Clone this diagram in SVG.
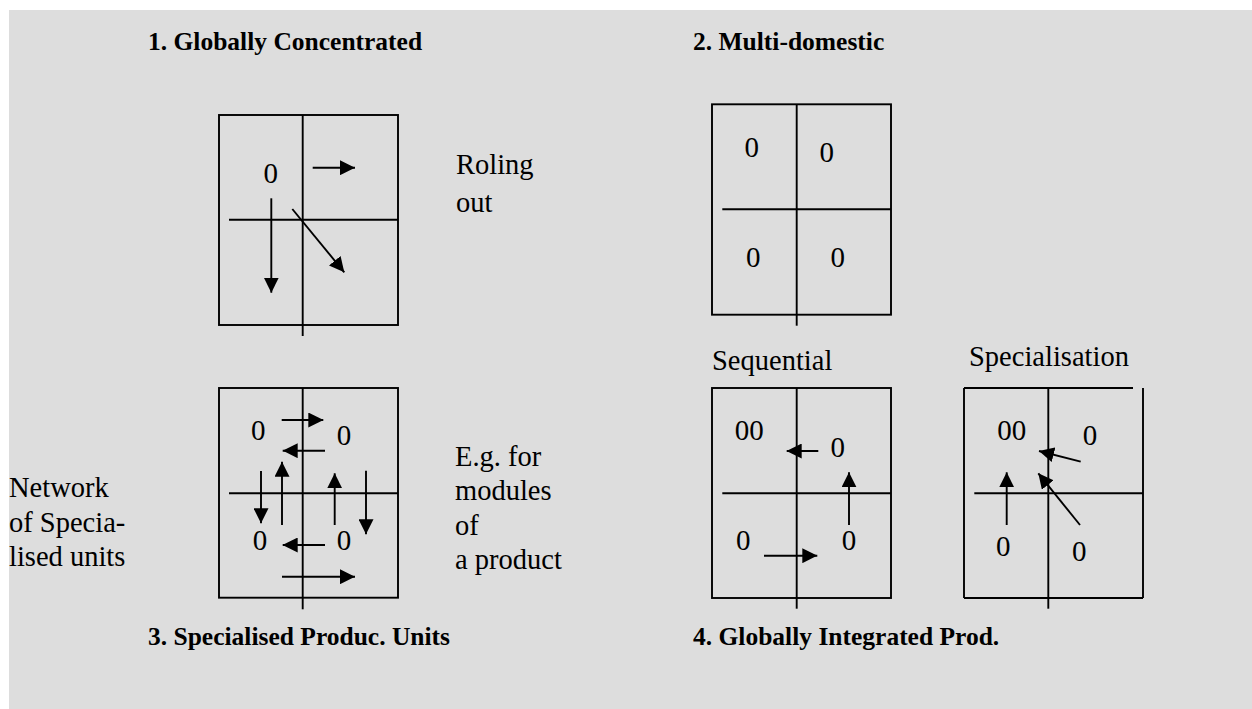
<svg xmlns="http://www.w3.org/2000/svg" width="1252" height="709" viewBox="0 0 1252 709">
  <style>
    .grid { stroke: #000; stroke-width: 1.9; fill: none; }
    .arr { stroke: #000; stroke-width: 1.9; fill: none; marker-end: url(#head); }
    .t { font-family: "Liberation Serif", "Times New Roman", serif; font-size: 28.5px; fill: #000; }
    .z { font-family: "Liberation Serif", "Times New Roman", serif; font-size: 29px; fill: #000; text-anchor: middle; }
    .h { font-family: "Liberation Serif", "Times New Roman", serif; font-size: 25.5px; font-weight: bold; fill: #000; }
  </style>
  <defs>
    <marker id="head" viewBox="0 0 15 15" refX="15" refY="7.5" markerWidth="15" markerHeight="15" markerUnits="userSpaceOnUse" orient="auto">
      <path d="M0,0 L15,7.5 L0,15 z" fill="#000"/>
    </marker>
  </defs>

  <!-- page background -->
  <rect x="9" y="10" width="1243" height="699" fill="#dddddd"/>

  <!-- titles -->
  <g id="titles">
    <text class="h" x="148" y="50">1. Globally Concentrated</text>
    <text class="h" x="693" y="50">2. Multi-domestic</text>
    <text class="h" x="148" y="645">3. Specialised Produc. Units</text>
    <text class="h" x="693" y="645">4. Globally Integrated Prod.</text>
  </g>

  <!-- 1. globally concentrated -->
  <g id="panel-concentrated">
    <rect class="grid" x="219" y="115" width="179" height="210"/>
    <line class="grid" x1="302.7" y1="115" x2="302.7" y2="336"/>
    <line class="grid" x1="229" y1="219.7" x2="398" y2="219.7"/>
    <text class="z" x="270.7" y="183">0</text>
    <text class="t" x="456" y="174">Roling</text>
    <text class="t" x="456" y="212">out</text>
  </g>

  <!-- 2. multi-domestic -->
  <g id="panel-multidomestic">
    <rect class="grid" x="712" y="104.3" width="179" height="210.4"/>
    <line class="grid" x1="796.7" y1="104.3" x2="796.7" y2="325.7"/>
    <line class="grid" x1="722.3" y1="209.3" x2="891" y2="209.3"/>
    <text class="z" x="751.7" y="157.3">0</text>
    <text class="z" x="826.7" y="162.3">0</text>
    <text class="z" x="753.3" y="266.7">0</text>
    <text class="z" x="837.7" y="266.7">0</text>
  </g>

  <!-- 3. specialised production units -->
  <g id="panel-specialised">
    <rect class="grid" x="219" y="388" width="179" height="209.7"/>
    <line class="grid" x1="302.7" y1="388" x2="302.7" y2="609.3"/>
    <line class="grid" x1="229" y1="493.3" x2="398" y2="493.3"/>
    <text class="z" x="258.3" y="440">0</text>
    <text class="z" x="344" y="445">0</text>
    <text class="z" x="260" y="550">0</text>
    <text class="z" x="344" y="550">0</text>
    <text class="t" x="9" y="497">Network</text>
    <text class="t" x="9" y="532">of Specia-</text>
    <text class="t" x="9" y="566">lised units</text>
    <text class="t" x="455" y="466">E.g. for</text>
    <text class="t" x="455" y="500">modules</text>
    <text class="t" x="455" y="535">of</text>
    <text class="t" x="455" y="569">a product</text>
  </g>

  <!-- 4a. sequential -->
  <g id="panel-sequential">
    <rect class="grid" x="712" y="388" width="179" height="210"/>
    <line class="grid" x1="796.7" y1="388" x2="796.7" y2="608.7"/>
    <line class="grid" x1="722.3" y1="493.3" x2="891" y2="493.3"/>
    <text class="z" x="749.3" y="440">00</text>
    <text class="z" x="837.7" y="456.7">0</text>
    <text class="z" x="743.3" y="550">0</text>
    <text class="z" x="849" y="550">0</text>
    <text class="t" x="712" y="370">Sequential</text>
  </g>

  <!-- 4b. specialisation -->
  <g id="panel-specialisation">
    <line class="grid" x1="964" y1="388" x2="1133" y2="388"/>
    <line class="grid" x1="964" y1="388" x2="964" y2="598"/>
    <line class="grid" x1="964" y1="598" x2="1143" y2="598"/>
    <line class="grid" x1="1143" y1="388" x2="1143" y2="598"/>
    <line class="grid" x1="1048.3" y1="388" x2="1048.3" y2="608.7"/>
    <line class="grid" x1="974.3" y1="493.3" x2="1143" y2="493.3"/>
    <text class="z" x="1011.7" y="440">00</text>
    <text class="z" x="1090" y="445">0</text>
    <text class="z" x="1003.3" y="556">0</text>
    <text class="z" x="1079.3" y="560.7">0</text>
    <text class="t" x="969" y="366">Specialisation</text>
  </g>

  <!-- flows between units -->
  <g id="connectors">
    <!-- panel 1 -->
    <line class="arr" x1="312.7" y1="167.7" x2="355" y2="167.7"/>
    <line class="arr" x1="271.3" y1="198.3" x2="271.3" y2="292.7"/>
    <line class="arr" x1="292.3" y1="209" x2="344.3" y2="272.3"/>
    <!-- panel 3 -->
    <line class="arr" x1="281.7" y1="420" x2="323.3" y2="420"/>
    <line class="arr" x1="325" y1="450.7" x2="282.7" y2="450.7"/>
    <line class="arr" x1="261" y1="471" x2="261" y2="523.3"/>
    <line class="arr" x1="282" y1="525" x2="282" y2="461.7"/>
    <line class="arr" x1="334.7" y1="525" x2="334.7" y2="473.3"/>
    <line class="arr" x1="366" y1="470.7" x2="366" y2="534.3"/>
    <line class="arr" x1="325" y1="545" x2="282.7" y2="545"/>
    <line class="arr" x1="282" y1="576.7" x2="355" y2="576.7"/>
    <!-- panel 4a -->
    <line class="arr" x1="818.3" y1="451" x2="786.7" y2="451"/>
    <line class="arr" x1="849" y1="525" x2="849" y2="472.3"/>
    <line class="arr" x1="764" y1="555.7" x2="817.3" y2="555.7"/>
    <!-- panel 4b -->
    <line class="arr" x1="1080.7" y1="461.7" x2="1039" y2="451"/>
    <line class="arr" x1="1080" y1="525" x2="1038.3" y2="473.3"/>
    <line class="arr" x1="1006.7" y1="525" x2="1006.7" y2="472.3"/>
  </g>
</svg>
